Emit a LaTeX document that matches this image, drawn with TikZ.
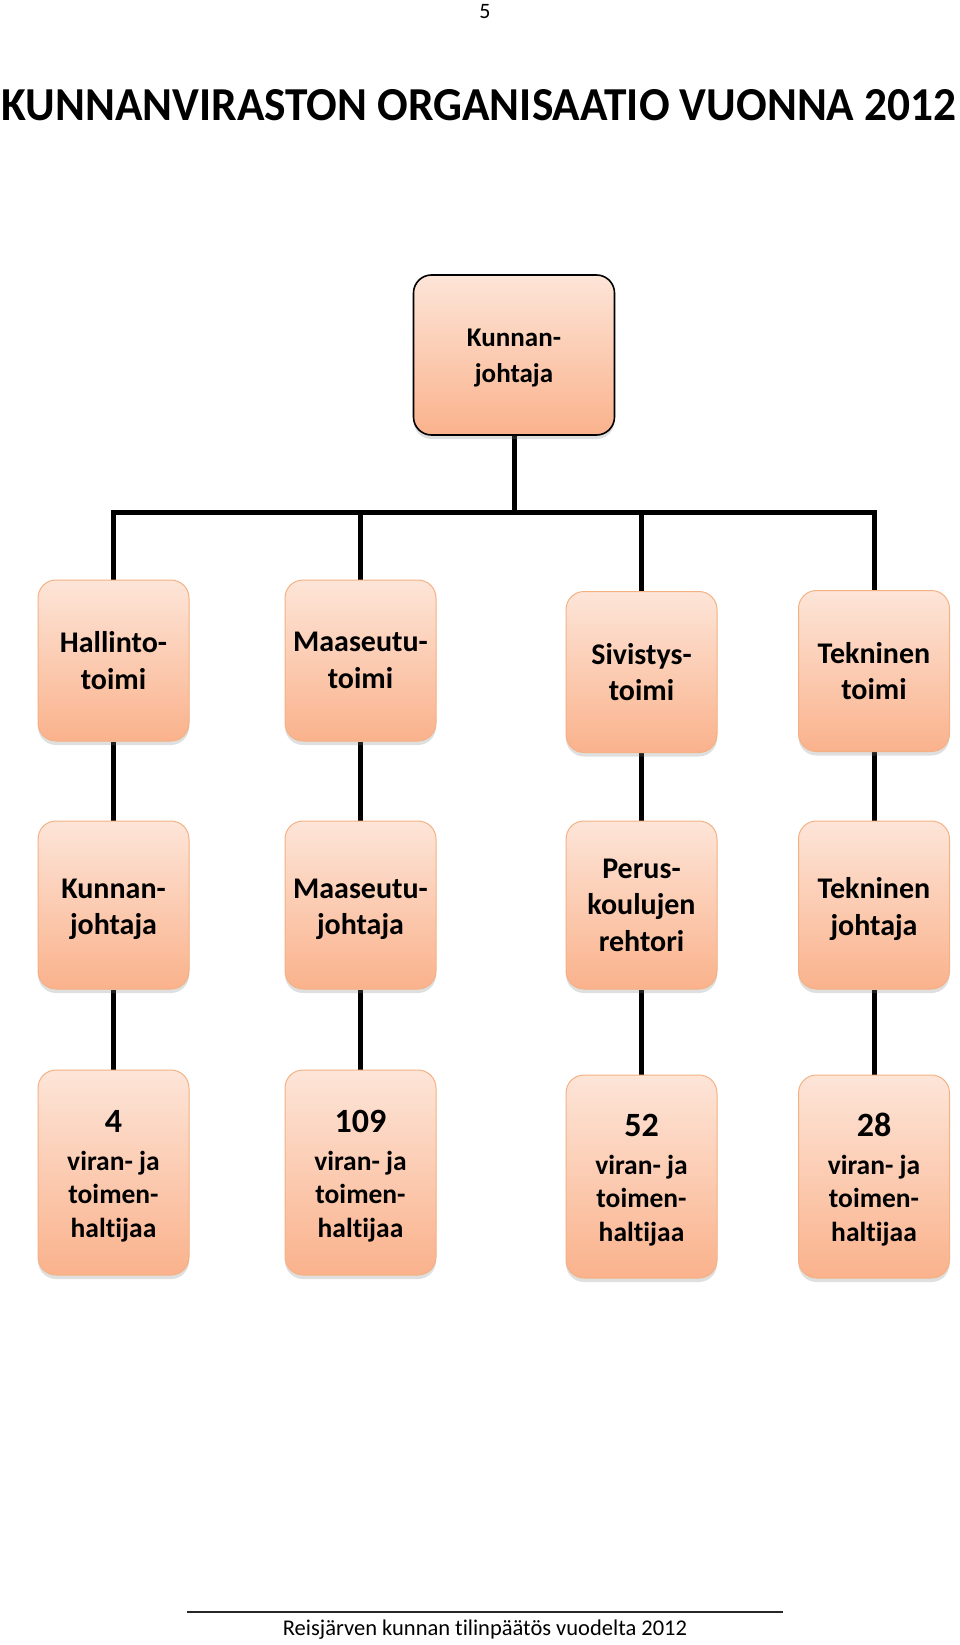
\documentclass[tikz,border=0pt]{standalone}
\usepackage{fontspec}
\setmainfont{Carlito}[Ligatures=NoCommon]
\usetikzlibrary{shadows,backgrounds}
\definecolor{boxtop}{RGB}{253,229,216}
\definecolor{boxbot}{RGB}{250,178,140}
\definecolor{boxline}{RGB}{244,177,131}
\tikzset{
  orgbox/.style={rectangle, rounded corners=18pt, top color=boxtop, bottom color=boxbot,
    draw=boxline, line width=1pt, minimum width=151pt, align=center,
    font=\bfseries\fontsize{30}{36.5}\selectfont,
    drop shadow={opacity=0.25, shadow xshift=0pt, shadow yshift=-4pt}},
  countbox/.style={orgbox, font=\bfseries\fontsize{27.5}{33.5}\selectfont},
  topbox/.style={orgbox, draw=black, line width=1.6pt, minimum width=201pt,
    font=\bfseries\fontsize{27}{36}\selectfont},
  conn/.style={line width=5pt, black},
}
\newcommand{\lift}[1]{\rule{0pt}{#1}}
\newcommand{\bignum}[1]{{\fontsize{34}{40}\selectfont\lift{30pt}#1}\\[4pt]}
\begin{document}
\begin{tikzpicture}[x=1pt,y=-1pt]
\useasboundingbox (0,0) rectangle (960,1645);
\node[font=\fontsize{22}{26}\selectfont] (pg) at (485,12) {5};
\node[inner sep=0pt, anchor=base] (title) at (479,121) {\resizebox{955pt}{31pt}{\bfseries KUNNANVIRASTON ORGANISAATIO VUONNA 2012}};

\node[topbox, minimum height=160pt] (top) at (514,355) {\lift{24pt}Kunnan-\\johtaja};

\node[orgbox, minimum height=161pt] (h1) at (113.5,660.5) {Hallinto-\\toimi};
\node[orgbox, minimum height=161pt] (h2) at (360.5,660.5) {Maaseutu-\\toimi};
\node[orgbox, minimum height=161pt] (h3) at (641.5,672) {Sivistys-\\toimi};
\node[orgbox, minimum height=161pt] (h4) at (874,671) {Tekninen\\toimi};

\node[orgbox, minimum height=168pt] (k1) at (113.5,905) {\lift{28pt}Kunnan-\\johtaja};
\node[orgbox, minimum height=168pt] (k2) at (360.5,905) {\lift{28pt}Maaseutu-\\johtaja};
\node[orgbox, minimum height=168pt] (k3) at (641.5,905) {Perus-\\koulujen\\rehtori};
\node[orgbox, minimum height=168pt] (k4) at (874,905) {\lift{29pt}Tekninen\\johtaja};

\node[countbox, minimum height=205pt] (v1) at (113.5,1172.5) {\bignum{4}viran- ja\\toimen-\\haltijaa};
\node[countbox, minimum height=205pt] (v2) at (360.5,1172.5) {\bignum{109}viran- ja\\toimen-\\haltijaa};
\node[countbox, minimum height=203pt] (v3) at (641.5,1176.5) {\bignum{52}viran- ja\\toimen-\\haltijaa};
\node[countbox, minimum height=203pt] (v4) at (874,1176.5) {\bignum{28}viran- ja\\toimen-\\haltijaa};

\coordinate (j) at (514,512);
\coordinate (jL) at (113.5,512);
\coordinate (j2) at (360.5,512);
\coordinate (j3) at (641.5,512);
\coordinate (jR) at (874,512);

\begin{scope}[on background layer]
\draw[conn] (top) -- (j);
\draw[conn, line cap=rect] (jL) -- (jR);
\draw[conn] (jL) -- (h1);
\draw[conn] (j2) -- (h2);
\draw[conn] (j3) -- (h3);
\draw[conn] (jR) -- (h4);
\draw[conn] (h1) -- (k1) -- (v1);
\draw[conn] (h2) -- (k2) -- (v2);
\draw[conn] (h3) -- (k3) -- (v3);
\draw[conn] (h4) -- (k4) -- (v4);
\end{scope}

\coordinate (fl) at (187,1612);
\coordinate (fr) at (783,1612);
\draw[line width=1.4pt, black!85] (fl) -- (fr);
\node[font=\fontsize{22.5}{26}\selectfont] (foot) at (485,1630) {Reisjärven kunnan tilinpäätös vuodelta 2012};
\end{tikzpicture}
\end{document}
